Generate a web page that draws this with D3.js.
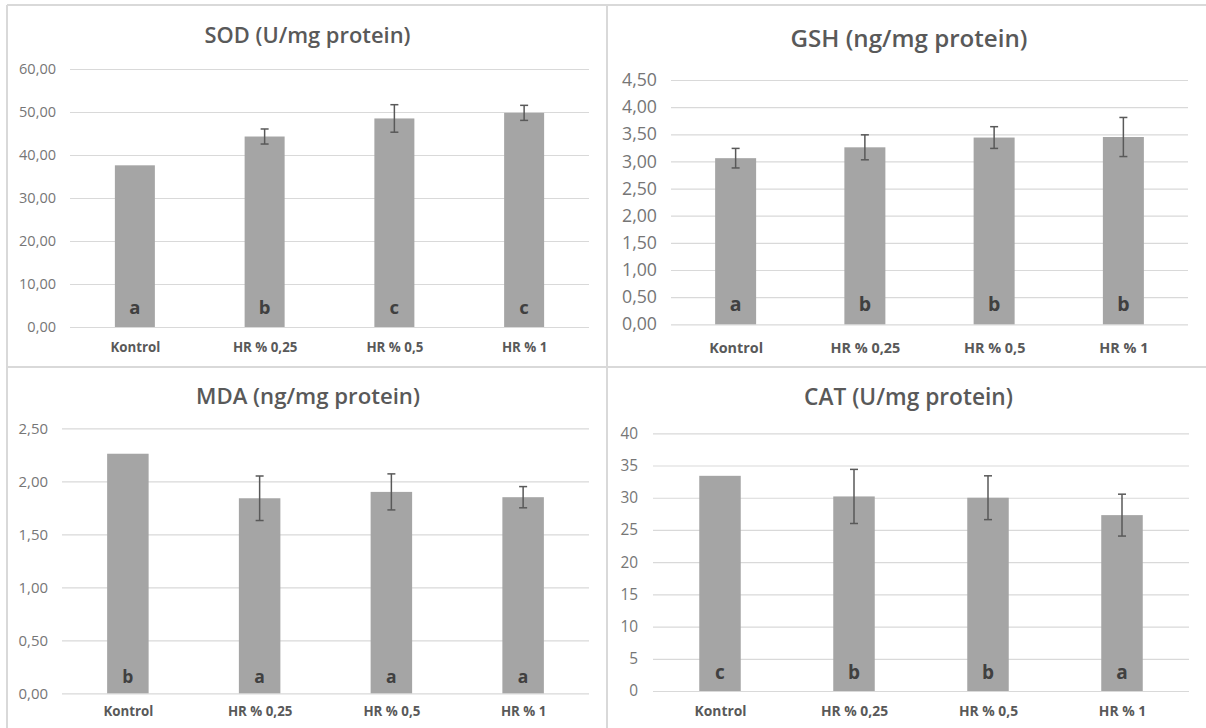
<!DOCTYPE html>
<html>
<head>
<meta charset="utf-8">
<script src="https://cdn.jsdelivr.net/npm/d3@7"></script>
<style>
  html, body { margin: 0; padding: 0; background: #fff; }
  svg { display: block; }
  text { font-family: "Open Sans", Lato, sans-serif; }
</style>
</head>
<body>
<svg id="chart" width="1206" height="728"></svg>
<script>
// Treatment groups shared by all four assays
const categories = ["Kontrol", "HR % 0,25", "HR % 0,5", "HR % 1"];

// SOD (U/mg protein)
const sodMean = [37.6, 44.3, 48.5, 49.8];
const sodErr = [null, 1.75, 3.2, 1.75];
const sodLetters = ["a", "b", "c", "c"];
const sodTicks = [0, 10, 20, 30, 40, 50, 60];

// GSH (ng/mg protein)
const gshMean = [3.06, 3.26, 3.44, 3.45];
const gshErr = [0.18, 0.23, 0.20, 0.36];
const gshLetters = ["a", "b", "b", "b"];
const gshTicks = [0, 0.5, 1, 1.5, 2, 2.5, 3, 3.5, 4, 4.5];

// MDA (ng/mg protein)
const mdaMean = [2.26, 1.84, 1.90, 1.85];
const mdaErr = [null, 0.21, 0.17, 0.10];
const mdaLetters = ["b", "a", "a", "a"];
const mdaTicks = [0, 0.5, 1, 1.5, 2, 2.5];

// CAT (U/mg protein)
const catMean = [33.4, 30.2, 30.0, 27.3];
const catErr = [null, 4.2, 3.4, 3.25];
const catLetters = ["c", "b", "b", "a"];
const catTicks = [0, 5, 10, 15, 20, 25, 30, 35, 40];

const comma2 = v => d3.format(".2f")(v).replace(".", ",");
const intFmt = v => d3.format("d")(v);

// Layout of each panel: plot area, text baselines and the widths the
// title / top tick label / first category label should occupy
const panels = [
  { title: "SOD (U/mg protein)", mean: sodMean, err: sodErr, letters: sodLetters, ticks: sodTicks, fmt: comma2,
    x0: 70, x1: 589, y0: 69, y1: 327, barW: 40,
    titleX: 307.5, titleY: 42.5, titleW: 206, tickX: 56, tickW: 37, catY: 352, catW: 50,
    letY: 314, letSize: 18.5 },
  { title: "GSH (ng/mg protein)", mean: gshMean, err: gshErr, letters: gshLetters, ticks: gshTicks, fmt: comma2,
    x0: 671, x1: 1188, y0: 80, y1: 324.3, barW: 41,
    titleX: 909, titleY: 46.5, titleW: 237, tickX: 657, tickW: 35, catY: 353, catW: 54,
    letY: 310.5, letSize: 19.5 },
  { title: "MDA (ng/mg protein)", mean: mdaMean, err: mdaErr, letters: mdaLetters, ticks: mdaTicks, fmt: comma2,
    x0: 62, x1: 589, y0: 428.3, y1: 693.3, barW: 41.5,
    titleX: 308, titleY: 403.5, titleW: 224, tickX: 48, tickW: 29.5, catY: 716, catW: 50,
    letY: 682.5, letSize: 17.5 },
  { title: "CAT (U/mg protein)", mean: catMean, err: catErr, letters: catLetters, ticks: catTicks, fmt: intFmt,
    x0: 653, x1: 1189, y0: 433.3, y1: 691, barW: 41.5,
    titleX: 908.5, titleY: 405, titleW: 209, tickX: 638, tickW: 17.6, catY: 716, catW: 52,
    letY: 678.5, letSize: 19 }
];

const svg = d3.select("#chart");

// Font size that makes a string span a given width
const probe = svg.append("text").attr("font-size", 100).attr("visibility", "hidden");
function fitSize(str, weight, width) {
  probe.attr("font-weight", weight).text(str);
  const w = probe.node().getComputedTextLength();
  return 100 * width / w;
}

// Panel frames
const frame = svg.append("g").attr("stroke", "#d9d9d9").attr("stroke-width", 2).attr("fill", "none");
frame.append("line").attr("x1", 7).attr("x2", 1206).attr("y1", 5).attr("y2", 5);
frame.append("line").attr("x1", 7).attr("x2", 7).attr("y1", 5).attr("y2", 728);
frame.append("line").attr("x1", 607).attr("x2", 607).attr("y1", 5).attr("y2", 728);
frame.append("line").attr("x1", 7).attr("x2", 1206).attr("y1", 367).attr("y2", 367);

panels.forEach(p => {
  const g = svg.append("g");
  const x = d3.scalePoint().domain(categories).range([p.x0, p.x1]).padding(0.5);
  const y = d3.scaleLinear().domain([0, d3.max(p.ticks)]).range([p.y1, p.y0]);

  const titleSize = fitSize(p.title, 600, p.titleW);
  const tickSize = fitSize(p.fmt(d3.max(p.ticks)), 400, p.tickW);
  const catSize = fitSize(categories[0], 700, p.catW);

  // Title
  g.append("text")
    .attr("x", p.titleX)
    .attr("y", p.titleY)
    .attr("text-anchor", "middle")
    .attr("font-size", titleSize)
    .attr("font-weight", 600)
    .attr("fill", "#595959")
    .text(p.title);

  // Horizontal gridlines and value labels
  const yAxis = d3.axisLeft(y).tickValues(p.ticks).tickFormat(p.fmt)
    .tickSize(-(p.x1 - p.x0)).tickPadding(p.x0 - p.tickX);
  const ya = g.append("g").attr("transform", `translate(${p.x0},0)`).call(yAxis);
  ya.select(".domain").remove();
  ya.selectAll(".tick line").attr("stroke", "#d9d9d9").attr("stroke-width", 1.2);
  ya.selectAll(".tick text")
    .attr("font-size", tickSize)
    .attr("fill", "#767676")
    .style("font-family", "'Open Sans', Lato, sans-serif");

  // Category labels
  const xAxis = d3.axisBottom(x).tickSize(0).tickPadding(0);
  const xa = g.append("g").attr("transform", `translate(0,${p.catY})`).call(xAxis);
  xa.select(".domain").remove();
  xa.selectAll(".tick text")
    .attr("dy", 0)
    .attr("font-size", catSize)
    .attr("font-weight", 700)
    .attr("fill", "#595959")
    .style("font-family", "'Open Sans', Lato, sans-serif");

  const rows = categories.map((c, i) => ({ c, m: p.mean[i], e: p.err[i], l: p.letters[i] }));

  // Bars
  g.selectAll("rect.bar").data(rows).join("rect")
    .attr("class", "bar")
    .attr("x", d => x(d.c) - p.barW / 2)
    .attr("width", p.barW)
    .attr("y", d => y(d.m))
    .attr("height", d => y(0) - y(d.m))
    .attr("fill", "#a5a5a5");

  // Error bars
  const eb = g.selectAll("g.err").data(rows.filter(d => d.e != null)).join("g")
    .attr("class", "err")
    .attr("stroke", "#595959")
    .attr("stroke-width", 1.5);
  eb.append("line")
    .attr("x1", d => x(d.c)).attr("x2", d => x(d.c))
    .attr("y1", d => y(d.m + d.e)).attr("y2", d => y(d.m - d.e));
  eb.append("line")
    .attr("x1", d => x(d.c) - 4).attr("x2", d => x(d.c) + 4)
    .attr("y1", d => y(d.m + d.e)).attr("y2", d => y(d.m + d.e));
  eb.append("line")
    .attr("x1", d => x(d.c) - 4).attr("x2", d => x(d.c) + 4)
    .attr("y1", d => y(d.m - d.e)).attr("y2", d => y(d.m - d.e));

  // Significance letters inside bars
  g.selectAll("text.letter").data(rows).join("text")
    .attr("class", "letter")
    .attr("x", d => x(d.c))
    .attr("y", p.letY)
    .attr("text-anchor", "middle")
    .attr("font-size", p.letSize)
    .attr("font-weight", 700)
    .attr("fill", "#404040")
    .text(d => d.l);
});
probe.remove();
</script>
</body>
</html>
